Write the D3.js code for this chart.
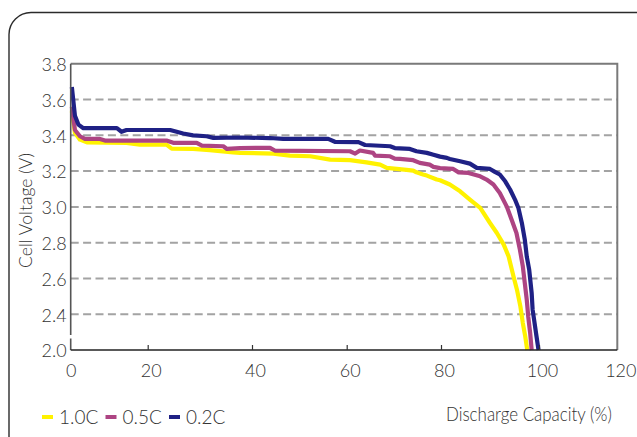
<!DOCTYPE html>
<html>
<head>
<meta charset="utf-8">
<script src="https://cdn.jsdelivr.net/npm/d3@7/dist/d3.min.js"></script>
<style>
  html, body { margin: 0; padding: 0; background: #ffffff; }
  svg { display: block; }
  text { font-family: Lato, "Open Sans", "DejaVu Sans", sans-serif; fill: #333333; font-weight: 300; }
</style>
</head>
<body>
<div id="chart"></div>
<script>
// ---- data ----
const seriesNames = ["1.0C", "0.5C", "0.2C"];
const seriesColors = ["#fff200", "#ad4483", "#1f2185"];

// [discharge capacity %, cell voltage V]
const rate10C = [[0.3,3.535],[1.1,3.414],[2.4,3.376],[4.2,3.361],[14.5,3.358],[18.0,3.348],[23.6,3.348],[24.6,3.326],[28.7,3.324],[31.9,3.317],[36.4,3.305],[37.7,3.302],[44.5,3.298],[48.0,3.287],[52.3,3.283],[56.5,3.264],[60.7,3.261],[64.2,3.249],[67.1,3.236],[68.5,3.218],[72.7,3.207],[74.1,3.203],[74.8,3.193],[76.2,3.181],[77.0,3.175],[79.1,3.153],[79.8,3.149],[81.8,3.125],[83.9,3.087],[85.9,3.041],[88.0,2.994],[90.0,2.91],[91.4,2.854],[92.8,2.789],[93.8,2.723],[94.8,2.611],[95.5,2.537],[96.2,2.444],[96.7,2.301],[97.2,2.15],[97.6,2.0]];
const rate05C = [[0.3,3.56],[1.1,3.43],[2.4,3.395],[3.7,3.38],[7.6,3.38],[8.9,3.371],[23.6,3.371],[24.9,3.358],[29.4,3.358],[30.4,3.343],[34.5,3.339],[35.2,3.324],[37.7,3.329],[43.8,3.33],[44.8,3.315],[60.7,3.311],[61.8,3.298],[62.8,3.315],[65.6,3.302],[66.0,3.287],[69.2,3.283],[70.2,3.27],[71.3,3.268],[74.1,3.261],[75.5,3.246],[77.6,3.236],[78.4,3.224],[79.8,3.217],[82.5,3.212],[83.6,3.193],[85.6,3.19],[88.0,3.171],[89.3,3.153],[90.7,3.125],[92.0,3.078],[93.4,3.003],[94.4,2.929],[95.4,2.854],[96.1,2.761],[96.7,2.667],[97.1,2.575],[97.5,2.481],[97.8,2.375],[98.2,2.188],[98.5,2.0]];
const rate02C = [[0.3,3.67],[0.5,3.63],[1.1,3.51],[2.0,3.46],[3.3,3.44],[5.9,3.44],[12.0,3.44],[13.2,3.42],[14.5,3.43],[17.1,3.43],[24.3,3.43],[26.8,3.41],[28.7,3.40],[31.3,3.395],[32.6,3.386],[37.7,3.388],[43.8,3.385],[46.6,3.38],[56.1,3.38],[57.5,3.364],[62.5,3.362],[63.9,3.346],[69.2,3.339],[70.2,3.329],[73.4,3.324],[74.8,3.311],[77.0,3.302],[78.4,3.292],[79.8,3.281],[81.2,3.274],[81.8,3.268],[83.9,3.255],[85.9,3.242],[87.3,3.218],[90.0,3.212],[91.0,3.196],[92.0,3.181],[93.1,3.143],[94.1,3.097],[95.1,3.041],[95.8,2.994],[96.5,2.91],[97.1,2.817],[97.5,2.723],[98.0,2.649],[98.5,2.519],[98.7,2.425],[99.0,2.338],[99.5,2.15],[99.9,2.0]];
const seriesData = [rate10C, rate05C, rate02C];

const xTickValues = [0, 20, 40, 60, 80, 100, 120];
const yTickValues = [2.0, 2.4, 2.6, 2.8, 3.0, 3.2, 3.4, 3.6, 3.8];
const yGridValues = [2.4, 2.6, 2.8, 3.0, 3.2, 3.4, 3.6];
const xTitle = "Discharge Capacity (%)";
const yTitle = "Cell Voltage (V)";

// ---- layout ----
const W = 637, H = 437;
const L = 70.7, T = 63.8, R = 617.3, B = 350;

const svg = d3.select("#chart").append("svg")
  .attr("width", W).attr("height", H)
  .attr("viewBox", `0 0 ${W} ${H}`);

svg.append("rect").attr("width", W).attr("height", H).attr("fill", "#ffffff");

// outer rounded panel (clipped by the picture edges)
svg.append("rect")
  .attr("x", 9).attr("y", 12.5)
  .attr("width", 660).attr("height", 470)
  .attr("rx", 22).attr("ry", 22)
  .attr("fill", "none").attr("stroke", "#2b2b2b").attr("stroke-width", 1.4);

// scales (original artwork: uneven tick spacing, broken y axis 2.0 -> 2.4)
const x = d3.scaleLinear()
  .domain(xTickValues)
  .range([L, 147.7, 252, 346.7, 441, 539, R]);
const y = d3.scaleLinear()
  .domain([2.0, 2.4, 3.8])
  .range([B, B - 35.8, T]);

// grid
svg.append("g").selectAll("line").data(yGridValues).join("line")
  .attr("x1", L).attr("x2", R)
  .attr("y1", d => y(d)).attr("y2", d => y(d))
  .attr("stroke", "#a3a3a3").attr("stroke-width", 2)
  .attr("stroke-dasharray", "8,4.4");

// frame: top & right grey
svg.append("path")
  .attr("d", `M${L},${T}H${R}V${B}`)
  .attr("fill", "none").attr("stroke", "#7a7a7a").attr("stroke-width", 2);

// series lines
const line = d3.line().x(d => x(d[0])).y(d => y(d[1]));
svg.append("g").selectAll("path").data(seriesData).join("path")
  .attr("d", line)
  .attr("fill", "none")
  .attr("stroke", (d, i) => seriesColors[i])
  .attr("stroke-width", 4.2)
  .attr("stroke-linejoin", "round");

// left axis line with break
svg.append("path")
  .attr("d", `M${L},${T}V${B - 15}M${L},${B - 11.5}V${B}`)
  .attr("fill", "none").attr("stroke", "#555555").attr("stroke-width", 1.6);

// bottom axis line
svg.append("line")
  .attr("x1", L).attr("x2", R).attr("y1", B).attr("y2", B)
  .attr("stroke", "#222222").attr("stroke-width", 1.6);

// x axis ticks & labels
const xAxis = d3.axisBottom(x)
  .tickValues(xTickValues)
  .tickFormat(d3.format("d"))
  .tickSize(-5)
  .tickPadding(14);
const gx = svg.append("g").attr("transform", `translate(0,${B})`).call(xAxis);
gx.select(".domain").remove();
gx.selectAll(".tick line").attr("stroke", "#333333").attr("stroke-width", 1.2)
  .attr("display", d => (d === 0 || d === 120) ? "none" : null);
gx.selectAll(".tick text")
  .attr("font-size", 18).attr("font-family", "Lato, 'Open Sans', sans-serif")
  .attr("font-weight", 300)
  .attr("fill", "#333333").attr("dx", d => d === 0 ? 0 : 3);

// y axis labels
const yAxis = d3.axisLeft(y)
  .tickValues(yTickValues)
  .tickFormat(d3.format(".1f"))
  .tickSize(0)
  .tickPadding(4);
const gy = svg.append("g").attr("transform", `translate(${L},0)`).call(yAxis);
gy.select(".domain").remove();
gy.selectAll(".tick text")
  .attr("font-size", 18).attr("font-family", "Lato, 'Open Sans', sans-serif")
  .attr("font-weight", 300)
  .attr("fill", "#333333").attr("dy", "0.38em");

// axis titles (condensed like the original artwork)
function condensed(sel, width) {
  const n = sel.node().getComputedTextLength();
  return n > 0 ? width / n : 1;
}
const xt = svg.append("text")
  .attr("font-size", 20)
  .text(xTitle);
xt.attr("transform", `translate(446,421) scale(${condensed(xt, 166)},1)`);

const yt = svg.append("text")
  .attr("text-anchor", "middle")
  .attr("font-size", 17)
  .text(yTitle);
yt.attr("transform", `translate(32,210.5) rotate(-90) scale(${condensed(yt, 115)},1)`);

// legend
const lg = svg.append("g").selectAll("g").data(seriesNames).join("g")
  .attr("transform", (d, i) => `translate(${42 + i * 63.5},417)`);
lg.append("line")
  .attr("x1", 0).attr("x2", 11).attr("y1", 0).attr("y2", 0)
  .attr("stroke", (d, i) => seriesColors[i]).attr("stroke-width", 4);
lg.append("text")
  .attr("x", 17).attr("y", 6.5)
  .attr("font-size", 19)
  .text(d => d);
</script>
</body>
</html>
